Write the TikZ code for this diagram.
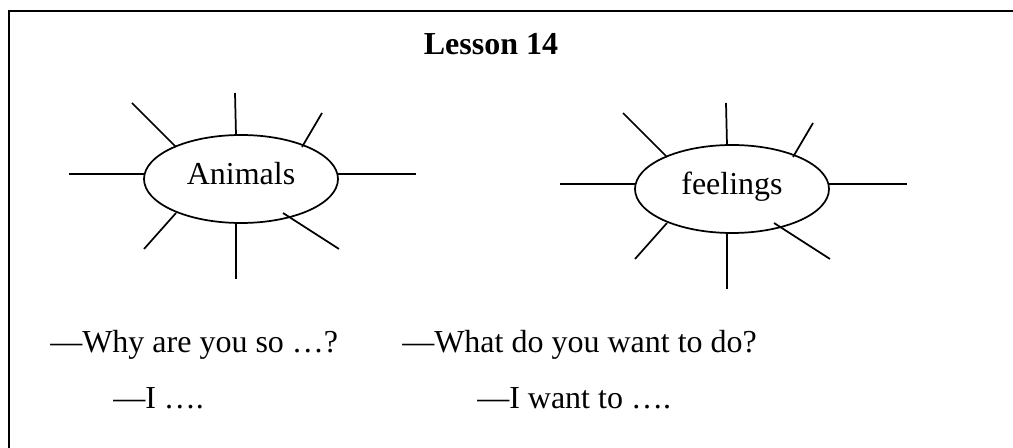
\documentclass[tikz,border=0pt]{standalone}
\usepackage{fontspec}
\setmainfont{Liberation Serif}
\usetikzlibrary{positioning, shapes.geometric, calc}

\begin{document}
\begin{tikzpicture}[
  x=0.75pt, y=-0.75pt,
  bubble/.style={ellipse, draw, line width=1.3pt, minimum width=145.5pt, minimum height=66pt, inner sep=0pt, text height=12pt, text depth=3pt, font=\fontsize{24}{28}\selectfont},
  ray/.style={line width=1.3pt},
  txt/.style={anchor=base west, inner sep=0pt, font=\fontsize{24}{28}\selectfont},
  edge/.style={line width=2pt}
]
  \useasboundingbox (0,0) rectangle (1013,448);

  % frame (cut off at right and bottom)
  \coordinate (fbl) at (9,448);
  \coordinate (ftl) at (9,11);
  \coordinate (ftr) at (1013,11);
  \draw[edge] (fbl) -- (ftl) -- (ftr);

  % title
  \node[txt, anchor=base] (title) at (491,55) {\textbf{Lesson 14}};

  % the two word maps
  \node[bubble] (animals) at (241,179) {Animals};
  \node[bubble] (feelings) at (732,189) {feelings};

  % rays round each bubble
  \foreach \c in {animals, feelings}
    \foreach \ax/\ay/\bx/\by in {-172/-5/-97/-5, 97/-5/175/-5, -6/-86/-5/-44, -109/-76/-65/-32,
                                 81/-66/61/-32, -65/34/-97/70, -5/44/-5/100, 42/34/98/70}
      \draw[ray] ($(\c)+(\ax,\ay)$) -- ($(\c)+(\bx,\by)$);

  % sentence patterns
  \node[txt] (ask1) at (50,353) {—Why are you so …?};
  \node[txt] (ans1) at (113,409) {—I ….};
  \node[txt] (ask2) at (402,353) {—What do you want to do?};
  \node[txt] (ans2) at (477,409) {—I want to ….};
\end{tikzpicture}
\end{document}
